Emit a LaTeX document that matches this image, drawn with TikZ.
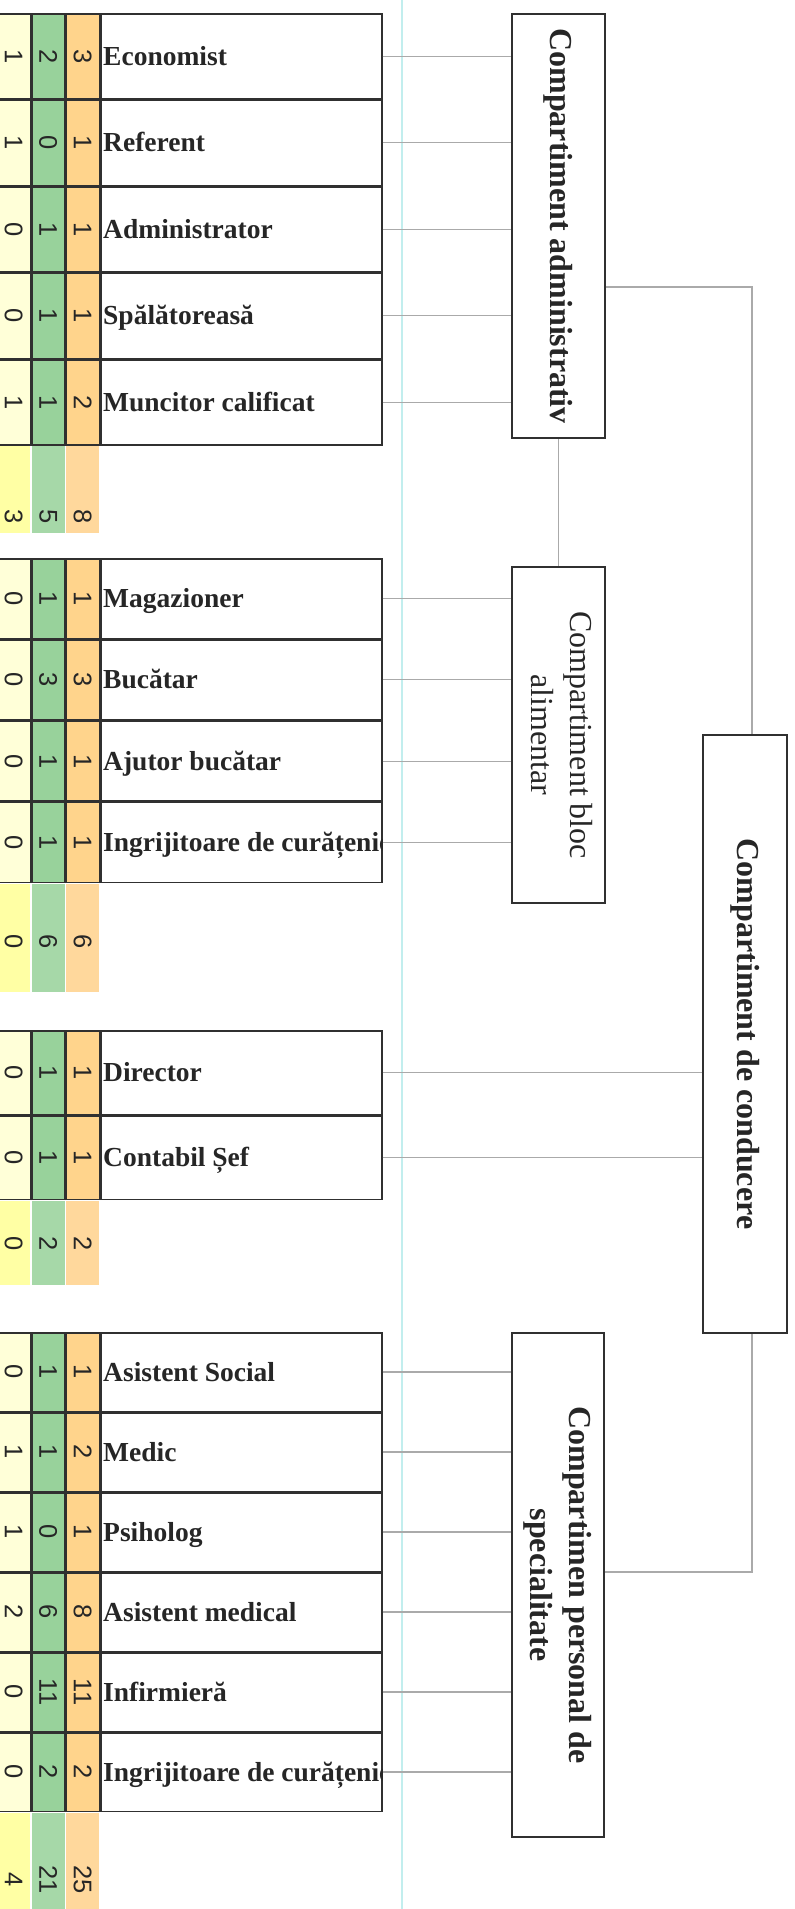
\documentclass[tikz,border=0pt]{standalone}
\usepackage{fontspec}
\setmainfont{Liberation Serif}
\newfontfamily\digitfont{Liberation Sans}
\usepackage{graphicx}
\usetikzlibrary{positioning,calc}
\definecolor{cellborder}{HTML}{303030}
\definecolor{inkdark}{HTML}{262626}
\definecolor{yellowcol}{HTML}{FFFFD8}
\definecolor{greencol}{HTML}{98D29B}
\definecolor{orangecol}{HTML}{FFD48C}
\definecolor{yellowsum}{HTML}{FFFFA4}
\definecolor{greensum}{HTML}{A6D8A8}
\definecolor{orangesum}{HTML}{FFD89C}
\definecolor{linkgray}{HTML}{AAAAAA}
\definecolor{guidecyan}{HTML}{C2EEEE}
\newcommand{\rowh}{85pt}
% one table row: name, placement, three counts, job title
\newcommand{\jobrow}[6]{%
  \node[jobcell, #2] (#1) {};
  \node[nr, fill=orangecol, left=0pt of #1]  (#1O) {\rotatebox{-90}{#5}};
  \node[nr, fill=greencol,  left=0pt of #1O] (#1G) {\rotatebox{-90}{#4}};
  \node[nr, fill=yellowcol, left=0pt of #1G] (#1Y) {\rotatebox{-90}{#3}};
  \begin{scope}
    \clip (#1.south west) rectangle (#1.north east);
    \node[jobtext] (#1T) at (#1.west) {#6};
  \end{scope}
}
% totals strip under a group: last row, strip height, digit offset, three counts
\newcommand{\sumrow}[6]{%
  \node[sumcell, fill=yellowsum, minimum height=#2, below=0.7pt of #1Y] (#1sY) {};
  \node[sumcell, fill=greensum,  minimum height=#2, below=0.7pt of #1G] (#1sG) {};
  \node[sumcell, fill=orangesum, minimum height=#2, below=0.7pt of #1O] (#1sO) {};
  \node[sumnr] (#1tY) at ($(#1sY.north)+(0,#3)$) {\rotatebox{-90}{#4}};
  \node[sumnr] (#1tG) at ($(#1sG.north)+(0,#3)$) {\rotatebox{-90}{#5}};
  \node[sumnr] (#1tO) at ($(#1sO.north)+(0,#3)$) {\rotatebox{-90}{#6}};
}

\begin{document}
\begin{tikzpicture}[x=1pt, y=-1pt,
  jobcell/.style={rectangle, draw=cellborder, line width=1.5pt,
                  minimum width=281pt, minimum height=\rowh, inner sep=0pt},
  jobtext/.style={anchor=west, inner xsep=3pt, inner ysep=0pt, text=inkdark,
                  text height=18.2pt, text depth=0pt,
                  font=\fontsize{27.5}{30}\selectfont\bfseries},
  nr/.style={rectangle, draw=cellborder, line width=1.5pt, text=inkdark,
             minimum width=33pt, minimum height=\rowh, inner sep=0pt,
             font=\digitfont\fontsize{25.5}{26}\selectfont},
  sumcell/.style={rectangle, minimum width=33pt, inner sep=0pt},
  sumnr/.style={inner sep=0pt, text=inkdark,
                font=\digitfont\fontsize{25.5}{26}\selectfont},
  grp/.style={rectangle, draw=cellborder, line width=1.6pt, fill=white,
              inner sep=0pt, text=inkdark, font=\fontsize{32}{39}\selectfont},
  link/.style={draw=linkgray, line width=1.2pt},
  guide/.style={draw=guidecyan, line width=2pt},
]
  \fill[white] (0,0) rectangle (795,1909);
  \useasboundingbox (0,0) rectangle (795,1909);
  \draw[guide] (402,0) -- (402,1909);

  %% Compartiment administrativ
  \renewcommand{\rowh}{85pt}
  \jobrow{econ}{anchor=north west, at={(100,13)}}{1}{2}{3}{Economist}
  \jobrow{refer}{below=0pt of econ}{1}{0}{1}{Referent}
  \jobrow{admr}{below=0pt of refer}{0}{1}{1}{Administrator}
  \jobrow{spal}{below=0pt of admr}{0}{1}{1}{Spălătoreasă}
  \jobrow{munc}{below=0pt of spal}{1}{1}{2}{Muncitor calificat}
  \sumrow{munc}{87pt}{70}{3}{5}{8}

  %% Compartiment bloc alimentar
  \renewcommand{\rowh}{79.75pt}
  \jobrow{mag}{anchor=north west, at={(100,558)}}{0}{1}{1}{Magazioner}
  \jobrow{buc}{below=0pt of mag}{0}{3}{3}{Bucătar}
  \jobrow{ajut}{below=0pt of buc}{0}{1}{1}{Ajutor bucătar}
  \jobrow{ingra}{below=0pt of ajut}{0}{1}{1}{Ingrijitoare de curățenie}
  \sumrow{ingra}{108pt}{58}{0}{6}{6}

  %% Conducere
  \renewcommand{\rowh}{83.5pt}
  \jobrow{dir}{anchor=north west, at={(100,1030)}}{0}{1}{1}{Director}
  \jobrow{cont}{below=0pt of dir}{0}{1}{1}{Contabil Șef}
  \sumrow{cont}{84pt}{43}{0}{2}{2}

  %% Personal de specialitate
  \renewcommand{\rowh}{78.5pt}
  \jobrow{asoc}{anchor=north west, at={(100,1332)}}{0}{1}{1}{Asistent Social}
  \jobrow{medic}{below=0pt of asoc}{1}{1}{2}{Medic}
  \jobrow{psih}{below=0pt of medic}{1}{0}{1}{Psiholog}
  \jobrow{amed}{below=0pt of psih}{2}{6}{8}{Asistent medical}
  \jobrow{infirm}{below=0pt of amed}{0}{11}{11}{Infirmieră}
  \jobrow{ingrb}{below=0pt of infirm}{0}{2}{2}{Ingrijitoare de curățenie}
  \sumrow{ingrb}{106pt}{67}{4}{21}{25}

  %% Compartment boxes
  \node[grp, font=\fontsize{32}{39}\selectfont\bfseries,
        minimum width=93pt, minimum height=424pt] (admin) at (558.5,226)
       {\rotatebox{-90}{Compartiment administrativ}};
  \node[grp, minimum width=93pt, minimum height=336pt] (bloc) at (558.5,735)
       {\rotatebox{-90}{\begin{tabular}{@{}c@{}}Compartiment bloc\\alimentar\end{tabular}}};
  \node[grp, font=\fontsize{32}{39}\selectfont\bfseries,
        minimum width=84pt, minimum height=598pt] (cond) at (745,1034)
       {\rotatebox{-90}{Compartiment de conducere}};
  \node[grp, font=\fontsize{32}{39}\selectfont\bfseries,
        minimum width=92pt, minimum height=504pt] (spec) at (558,1585)
       {\rotatebox{-90}{\begin{tabular}{@{}c@{}}Compartimen personal de\\specialitate\end{tabular}}};

  \draw[link] (econ.east)   -- (econ.east -| admin.west);
  \draw[link] (refer.east)  -- (refer.east -| admin.west);
  \draw[link] (admr.east)   -- (admr.east -| admin.west);
  \draw[link] (spal.east)   -- (spal.east -| admin.west);
  \draw[link] (munc.east)   -- (munc.east -| admin.west);
  \draw[link] (mag.east)    -- (mag.east -| bloc.west);
  \draw[link] (buc.east)    -- (buc.east -| bloc.west);
  \draw[link] (ajut.east)   -- (ajut.east -| bloc.west);
  \draw[link] (ingra.east)  -- (ingra.east -| bloc.west);
  \draw[link] (dir.east)    -- (dir.east -| cond.west);
  \draw[link] (cont.east)   -- (cont.east -| cond.west);
  \draw[link] (asoc.east)   -- (asoc.east -| spec.west);
  \draw[link] (medic.east)  -- (medic.east -| spec.west);
  \draw[link] (psih.east)   -- (psih.east -| spec.west);
  \draw[link] (amed.east)   -- (amed.east -| spec.west);
  \draw[link] (infirm.east) -- (infirm.east -| spec.west);
  \draw[link] (ingrb.east)  -- (ingrb.east -| spec.west);
  \draw[link] (admin.south) -- (bloc.north);
  \draw[link] ($(admin.east)+(0,61)$) -| ($(cond.north)+(7,0)$);
  \draw[link] ($(cond.south)+(7,0)$) |- ($(spec.east)+(0,-13)$);
\end{tikzpicture}
\end{document}
